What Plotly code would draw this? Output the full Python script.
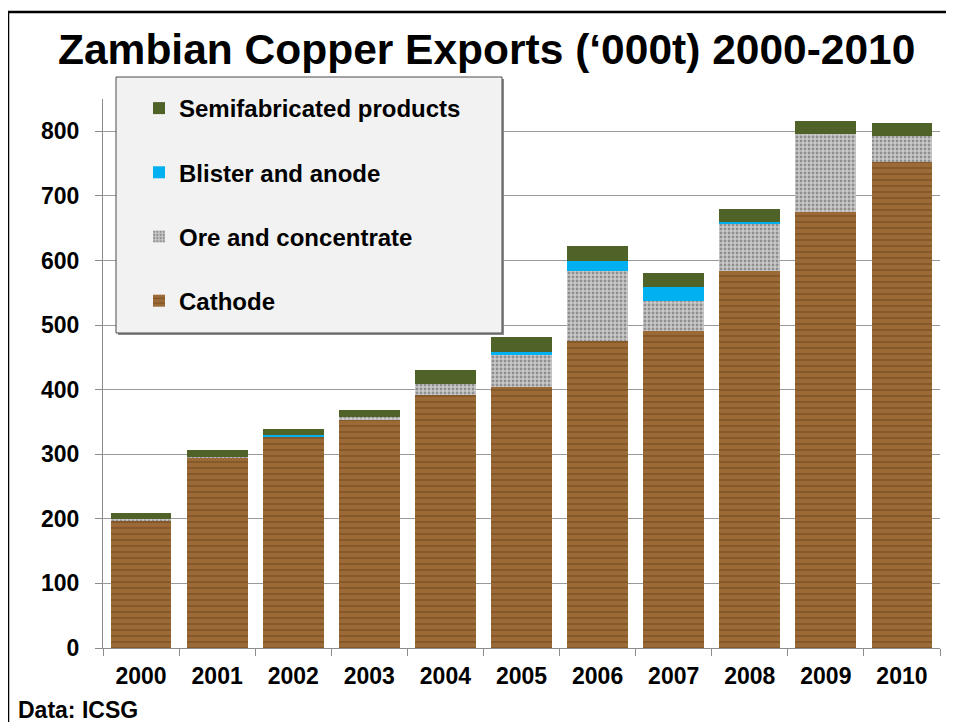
import plotly.graph_objects as go

# ---- data ('000 t) ----
years = ["2000", "2001", "2002", "2003", "2004", "2005", "2006", "2007", "2008", "2009", "2010"]
cathode = [198, 295, 327, 353, 392, 404, 475, 491, 584, 675, 752]
ore_concentrate = [1, 1.5, 1, 4.5, 17, 49, 108.5, 46, 72.5, 120.5, 40.5]
blister_anode = [0, 0, 2, 0, 0, 6, 15.5, 22, 3, 0, 0]
semifabricated = [10, 10, 9, 10.5, 21.5, 23, 23, 21.5, 20, 20, 20]
y_ticks = [0, 100, 200, 300, 400, 500, 600, 700, 800]

FONT = "Arial, Liberation Sans, sans-serif"

# page offset (browser body margin)
OFF = 8
# plot-area pixel geometry (page coordinates)
X0, X1 = 103, 940
Y0, Y1 = 648, 99
def px(x):
    return (x - X0) / (X1 - X0)
def py(y):
    return (Y0 - y) / (Y0 - Y1)

fig = go.Figure()
fig.add_trace(go.Bar(
    x=years, y=cathode, name="Cathode", legendgroup="c", legendrank=4,
    marker=dict(color="#93602d", line=dict(width=0),
                pattern=dict(shape="-", bgcolor="#9b6a36", fgcolor="#5a3414",
                             size=6, solidity=0.22)),
))
fig.add_trace(go.Bar(
    x=years, y=ore_concentrate, name="Ore and concentrate", legendgroup="o", legendrank=3,
    marker=dict(color="#c3c3c3", line=dict(width=0),
                pattern=dict(shape=".", bgcolor="#c9c9c9", fgcolor="#555555",
                             size=4, solidity=0.4)),
))
fig.add_trace(go.Bar(
    x=years, y=blister_anode, name="Blister and anode", legendgroup="b", legendrank=2,
    marker=dict(color="#00b0f0", line=dict(width=0)),
))
fig.add_trace(go.Bar(
    x=years, y=semifabricated, name="Semifabricated products", legendgroup="s", legendrank=1,
    marker=dict(color="#4f6228", line=dict(width=0)),
))

shapes = [
    # outer frame (top and left edges visible)
    dict(type="line", xref="paper", yref="paper", x0=px(8), x1=px(8), y0=py(740), y1=py(12),
         line=dict(color="black", width=2.5)),
    dict(type="line", xref="paper", yref="paper", x0=px(8), x1=px(970), y0=py(12), y1=py(12),
         line=dict(color="black", width=2.5)),
    # legend box shadow + box
    dict(type="rect", xref="paper", yref="paper", x0=px(118), x1=px(504), y0=py(335), y1=py(79),
         fillcolor="#8a8a8a", line=dict(width=0)),
    dict(type="rect", xref="paper", yref="paper", x0=px(116), x1=px(502), y0=py(333), y1=py(77),
         fillcolor="#f2f2f2", line=dict(color="#4a4a4a", width=1)),
]

annotations = [
    dict(text="Zambian Copper Exports (\u2018000t) 2000-2010", xref="paper", yref="paper",
         x=px(486), y=py(50), xanchor="center", yanchor="middle", showarrow=False,
         font=dict(family=FONT, size=42.5, color="black", weight="bold")),
    dict(text="Data: ICSG", xref="paper", yref="paper",
         x=px(16), y=py(710), xanchor="left", yanchor="middle", showarrow=False,
         font=dict(family=FONT, size=23, color="black", weight="bold")),
]

fig.update_layout(
    width=954 - OFF, height=722 - OFF,
    margin=dict(l=X0 - OFF, r=954 - X1, t=Y1 - OFF, b=722 - Y0),
    paper_bgcolor="white", plot_bgcolor="white",
    barmode="stack", bargap=0.2,
    shapes=shapes, annotations=annotations,
    showlegend=True,
    legend=dict(
        x=px(139), y=py(86), xanchor="left", yanchor="top",
        bgcolor="rgba(0,0,0,0)", borderwidth=0,
        traceorder="grouped", tracegroupgap=30,
        font=dict(family=FONT, size=24, color="black", weight="bold"),
    ),
    xaxis=dict(
        type="category", tickson="boundaries", ticks="outside", ticklen=7,
        tickcolor="#8c8c8c", showline=True, linecolor="#8c8c8c", linewidth=1,
        showgrid=False, ticklabelstandoff=7,
        tickfont=dict(family=FONT, size=23, color="black", weight="bold"),
    ),
    yaxis=dict(
        range=[0, 850], tickvals=y_ticks, ticks="outside", ticklen=7,
        tickcolor="#8c8c8c", showline=True, linecolor="#8c8c8c", linewidth=1,
        showgrid=True, gridcolor="#9a9a9a", gridwidth=1, zeroline=False,
        ticklabelstandoff=11,
        tickfont=dict(family=FONT, size=23, color="black", weight="bold"),
    ),
)

fig.write_html("out.html")
